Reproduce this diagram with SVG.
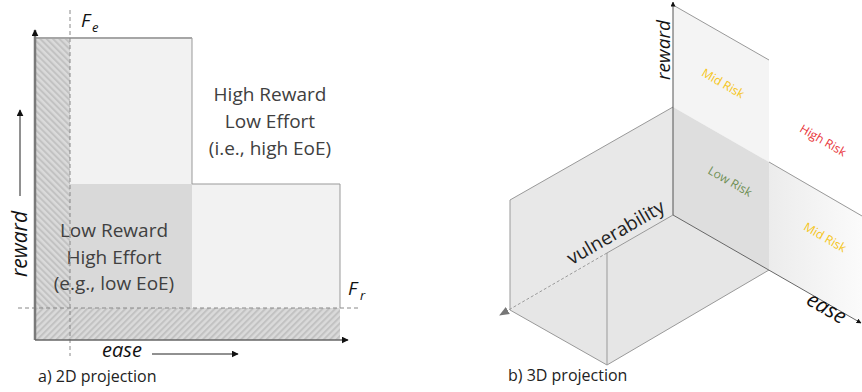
<svg xmlns="http://www.w3.org/2000/svg" width="862" height="392" viewBox="0 0 862 392">
<defs>
<style>
text{font-family:"Open Sans","Liberation Sans",sans-serif;fill:#404040}
.lbl{font-size:19px;text-anchor:middle}
.cap{font-size:16px;fill:#222}
.it{font-style:italic;fill:#111}
.edge{stroke:#999;stroke-width:1;fill:none}
.dash{stroke:#888;stroke-width:1;stroke-dasharray:4 3;fill:none}
.risk{font-size:12px;text-anchor:middle}
</style>
<pattern id="hatchL" width="4.5" height="4.5" patternUnits="userSpaceOnUse" patternTransform="rotate(-45)">
<rect width="4.5" height="4.5" fill="#dadada"/><rect width="2" height="4.5" fill="#c2c2c2"/>
</pattern>
<pattern id="hatchB" width="4.5" height="4.5" patternUnits="userSpaceOnUse" patternTransform="rotate(45)">
<rect width="4.5" height="4.5" fill="#dadada"/><rect width="2" height="4.5" fill="#c2c2c2"/>
</pattern>
<linearGradient id="fade" x1="0" y1="0" x2="1" y2="0">
<stop offset="0" stop-color="#ececec"/><stop offset="1" stop-color="#fbfbfb"/>
</linearGradient>
<marker id="ah" viewBox="0 0 10 10" refX="9" refY="5" markerWidth="7" markerHeight="7" markerUnits="userSpaceOnUse" orient="auto"><path d="M0,0 L10,5 L0,10 z" fill="#111"/></marker>
<marker id="ahs" viewBox="0 0 10 10" refX="9" refY="5" markerWidth="5" markerHeight="5" markerUnits="userSpaceOnUse" orient="auto"><path d="M0,0 L10,5 L0,10 z" fill="#111"/></marker>
<marker id="ahg" viewBox="0 0 10 10" refX="9" refY="5" markerWidth="10" markerHeight="10" markerUnits="userSpaceOnUse" orient="auto"><path d="M0,1 L10,5 L0,9 z" fill="#777"/></marker>
</defs>

<!-- a) 2D projection -->
<g id="hatch">
<rect x="35" y="38" width="35" height="270" fill="url(#hatchL)"/>
<rect x="35" y="308" width="305" height="32" fill="url(#hatchB)"/>
</g>
<g id="region-high">
<rect x="70" y="38" width="122" height="146" fill="#f2f2f2"/>
<rect x="192" y="184" width="148" height="124" fill="#f2f2f2"/>
<path d="M35,38 H192 V184 H340 V308" class="edge" stroke="#b0b0b0"/>
<path d="M35,38 H192" stroke="#a6a6a6" stroke-width="2" fill="none"/>
<text class="lbl" x="270" y="101">High Reward</text>
<text class="lbl" x="270" y="128">Low Effort</text>
<text class="lbl" x="270" y="155">(i.e., high EoE)</text>
</g>
<g id="region-low">
<rect x="70" y="184" width="122" height="124" fill="#d9d9d9"/>
<text class="lbl" x="114" y="237">Low Reward</text>
<text class="lbl" x="114" y="264">High Effort</text>
<text class="lbl" x="114" y="290">(e.g., low EoE)</text>
</g>
<g id="thresholds">
<line x1="70" y1="10" x2="70" y2="356" class="dash"/>
<line x1="18" y1="308" x2="360" y2="308" class="dash"/>
<text class="it" x="81" y="27" font-size="19">F</text>
<text class="it" x="92" y="32" font-size="13">e</text>
<text class="it" x="348" y="295" font-size="19">F</text>
<text class="it" x="360" y="300" font-size="13">r</text>
</g>
<g id="axes2d">
<line x1="35" y1="340" x2="35" y2="30" stroke="#7a7a7a" stroke-width="2.5" marker-end="url(#ah)"/>
<line x1="35" y1="340" x2="348" y2="340" stroke="#666" stroke-width="1.5" marker-end="url(#ah)"/>
<line x1="20" y1="196" x2="20" y2="110" stroke="#222" stroke-width="1" marker-end="url(#ah)"/>
<line x1="152" y1="354" x2="238" y2="354" stroke="#222" stroke-width="1" marker-end="url(#ah)"/>
<text class="it" font-size="21" text-anchor="middle" transform="translate(27,244) rotate(-90)">reward</text>
<text class="it" font-size="20" x="102" y="357">ease</text>
</g>
<text class="cap" x="38" y="382">a) 2D projection</text>

<!-- b) 3D projection -->
<g id="box">
<polygon points="673,107 510,200 510,310 673,215" fill="#e8e8e8"/>
<polygon points="673,215 510,310 607,365 769,270" fill="#e6e6e6"/>
<line x1="673" y1="107" x2="510" y2="200" class="edge"/>
<line x1="510" y1="200" x2="510" y2="310" class="edge"/>
<path d="M510,310 L607,365 L769,270" class="edge"/>
<line x1="607" y1="253" x2="607" y2="365" class="edge"/>
</g>
<g id="panel-mid-top">
<polygon points="673,5 769,60 769,162 673,107" fill="#f4f4f4"/>
<line x1="673" y1="5" x2="769" y2="60" class="edge"/>
<text class="risk" transform="translate(721,87) rotate(30)" style="fill:#f5c518">Mid Risk</text>
</g>
<g id="panel-low">
<polygon points="673,107 769,162 769,270 673,215" fill="#dedede"/>
<text class="risk" transform="translate(728,185) rotate(30)" style="fill:#6f8f55">Low Risk</text>
</g>
<g id="panel-mid-right">
<polygon points="769,162 862,215 862,323 769,270" fill="url(#fade)"/>
<line x1="769" y1="162" x2="862" y2="216" class="edge"/>
<text class="risk" transform="translate(823,241) rotate(30)" style="fill:#f5c518">Mid Risk</text>
</g>
<g id="high-risk">
<text class="risk" transform="translate(821,144) rotate(30)" style="fill:#e8383d">High Risk</text>
</g>
<g id="axes3d">
<line x1="673" y1="215" x2="673" y2="2" stroke="#555" stroke-width="1" marker-end="url(#ahs)"/>
<line x1="673" y1="215" x2="861" y2="323" stroke="#666" stroke-width="1" marker-end="url(#ahs)"/>
<line x1="673" y1="215" x2="607" y2="253" stroke="#999" stroke-width="1"/>
<line x1="607" y1="253" x2="500" y2="315" stroke="#999" stroke-width="1" stroke-dasharray="3 2" marker-end="url(#ahg)"/>
<text class="it" font-size="19" text-anchor="middle" transform="translate(670,50) rotate(-90)">reward</text>
<text font-size="19" text-anchor="middle" style="fill:#222" transform="translate(619,238) rotate(-30)">vulnerability</text>
<text class="it" font-size="21" text-anchor="middle" transform="translate(823,314) rotate(30)">ease</text>
</g>
<text class="cap" x="508" y="381">b) 3D projection</text>
</svg>
